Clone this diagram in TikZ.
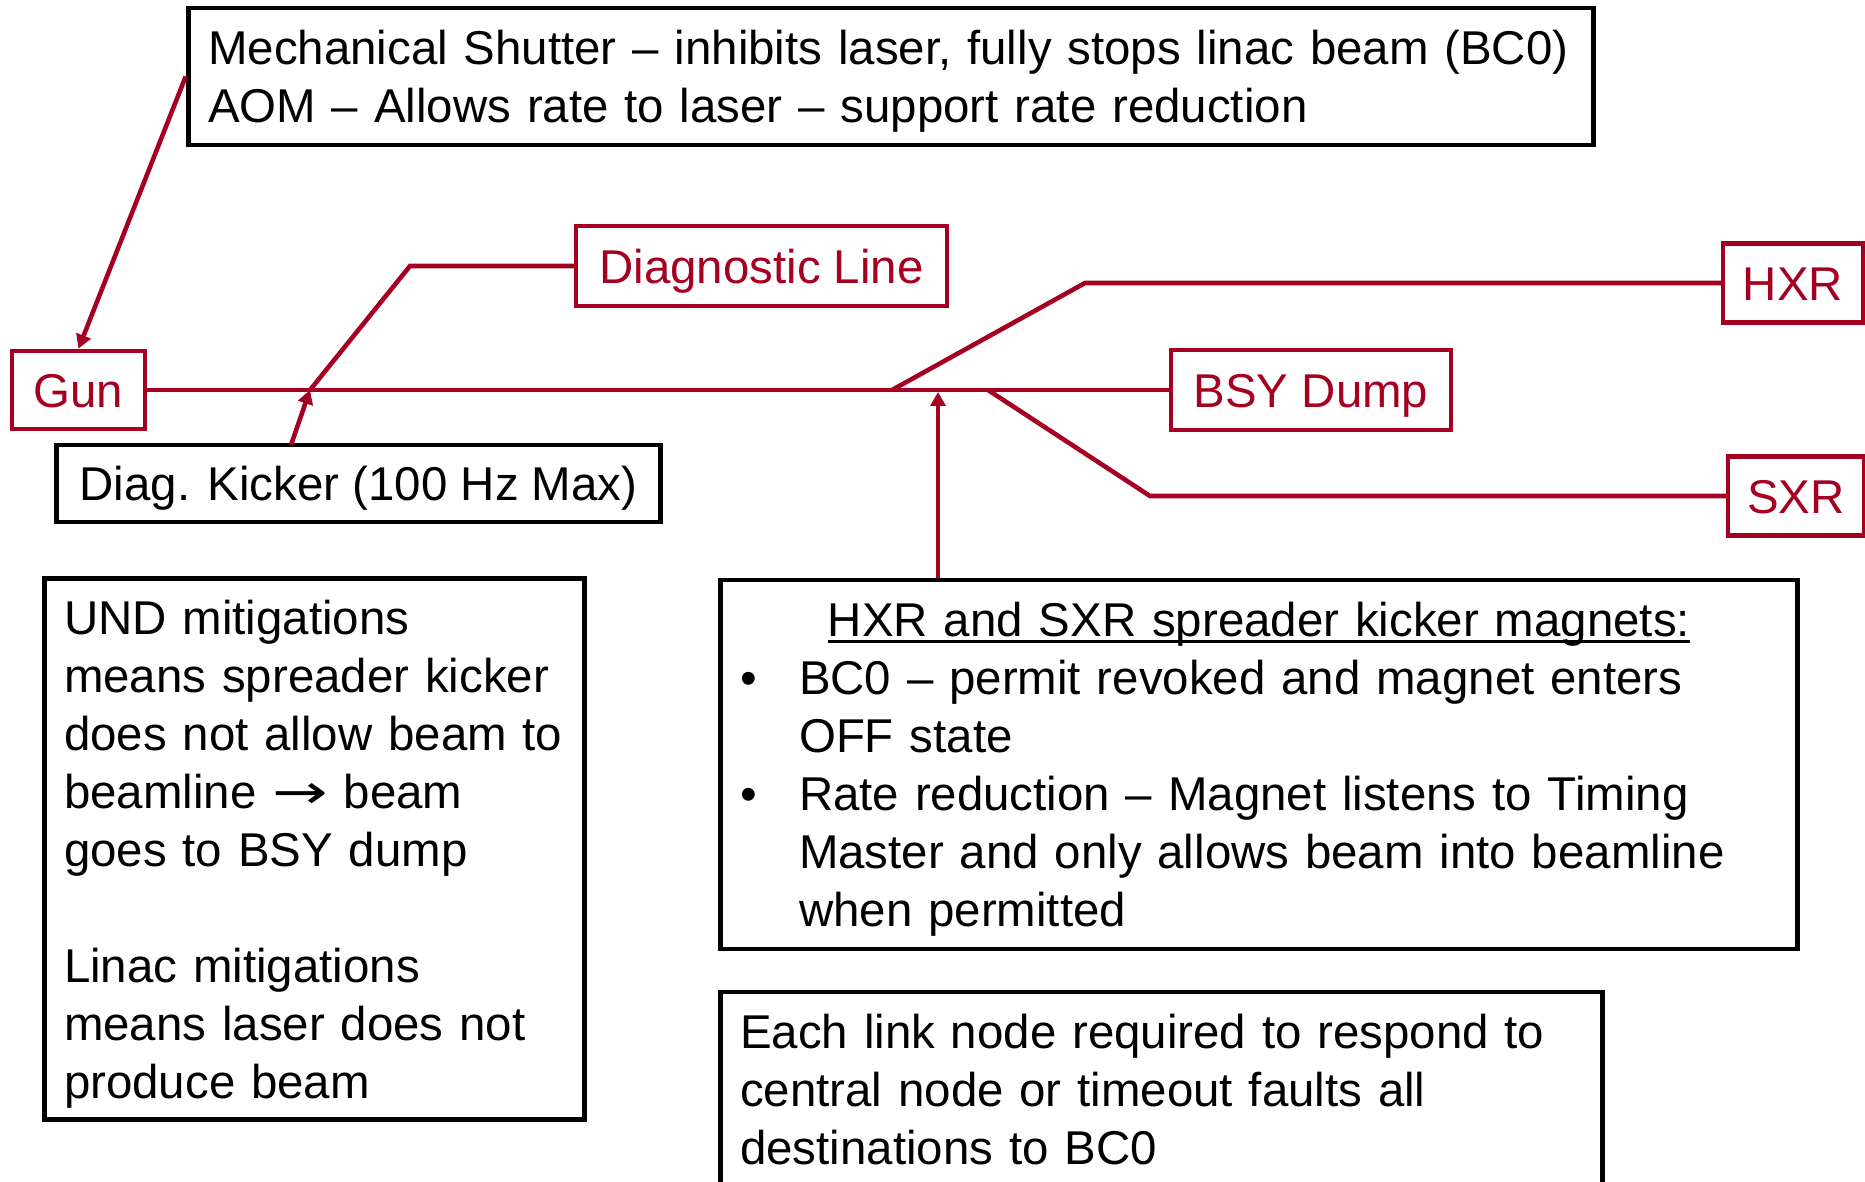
\documentclass[tikz,border=0pt]{standalone}
\usepackage{fontspec}
\setmainfont{Liberation Sans}
\newfontfamily\symfont{DejaVu Sans}
\usetikzlibrary{arrows.meta}
\definecolor{mpsred}{RGB}{165,0,33}
\newcommand\notefont{\fontsize{27}{33}\selectfont}
\newcommand\ulwords[1]{\setbox0\hbox{#1}\rlap{\rule[-0.12cm]{\wd0}{0.06cm}}\box0}
\newcommand\toarrow{\scalebox{1.4}[1]{\symfont →}}
\tikzset{
  note/.style={draw=black,line width=2.8pt,align=left,inner xsep=0.4cm,inner ysep=0pt,font=\notefont,text height=19.5pt},
  dest/.style={draw=mpsred,line width=2.6pt,text=mpsred,inner sep=0pt,font=\notefont,text height=19.5pt,text depth=0pt},
  beam/.style={draw=mpsred,line width=2.6pt},
  tip/.style={-{Triangle[length=0.28cm,width=0.3cm]}}
}
\begin{document}
\begin{tikzpicture}[x=0.02cm,y=-0.02cm]
\useasboundingbox (0,0) rectangle (1865,1182);
\node[note,text width=27.32cm,minimum height=2.74cm,text depth=33pt] (shutter) at (891,76.5)
  {Mechanical Shutter -- inhibits laser, fully stops linac beam (BC0)\\
   AOM -- Allows rate to laser -- support rate reduction};
\node[dest,minimum width=2.66cm,minimum height=1.56cm] (gun) at (78.5,390) {Gun};
\node[note,align=center,minimum width=12.1cm,minimum height=1.54cm,text depth=0pt] (kicker) at (358.5,483.5) {Diag. Kicker (100 Hz Max)};
\node[dest,minimum width=7.42cm,minimum height=1.6cm] (diagline) at (761.5,266) {Diagnostic Line};
\node[dest,minimum width=2.8cm,minimum height=1.58cm] (hxr) at (1793,283) {HXR};
\node[dest,minimum width=5.6cm,minimum height=1.6cm] (bsy) at (1311,390) {BSY Dump};
\node[dest,minimum width=2.72cm,minimum height=1.58cm] (sxr) at (1796,496) {SXR};
\node[note,text width=10.02cm,minimum height=10.84cm,text depth=264pt] (und) at (314.5,849)
  {UND mitigations\\ means spreader kicker\\ does not allow beam to\\ beamline \toarrow\ beam\\ goes to BSY dump\\[33pt]
   Linac mitigations\\ means laser does not\\ produce beam};
\node[note,text width=20.76cm,minimum height=7.38cm,text depth=165pt] (spreader) at (1259,764.5)
  {\makebox[20.76cm]{\ulwords{HXR and SXR spreader kicker magnets:}}\\
   \makebox[1.18cm][l]{•}BC0 -- permit revoked and magnet enters\\
   \hspace*{1.18cm}OFF state\\
   \makebox[1.18cm][l]{•}Rate reduction -- Magnet listens to Timing\\
   \hspace*{1.18cm}Master and only allows beam into beamline\\
   \hspace*{1.18cm}when permitted};
\node[note,text width=16.86cm,minimum height=3.88cm,text depth=66pt] (timeout) at (1161.5,1089)
  {Each link node required to respond to\\ central node or timeout faults all\\ destinations to BC0};
\coordinate (diagj) at (310,390);
\coordinate (diagbend) at (410,266);
\coordinate (hxrj) at (892,390);
\coordinate (hxrbend) at (1085,283);
\coordinate (sxrj) at (988,390);
\coordinate (sxrbend) at (1150,496);
\coordinate (kickj) at (938,392);
\coordinate (kickfoot) at (291,445);
\draw[beam] (gun.east) -- (bsy.west);
\draw[beam] (diagj) -- (diagbend) -- (diagline.west);
\draw[beam] (hxrj) -- (hxrbend) -- (hxr.west);
\draw[beam] (sxrj) -- (sxrbend) -- (sxr.west);
\draw[beam,tip] (shutter.west) -- (gun.north);
\draw[beam,tip] (kickfoot) -- (diagj);
\draw[beam,tip] (kickj |- spreader.north) -- (kickj);
\end{tikzpicture}
\end{document}
